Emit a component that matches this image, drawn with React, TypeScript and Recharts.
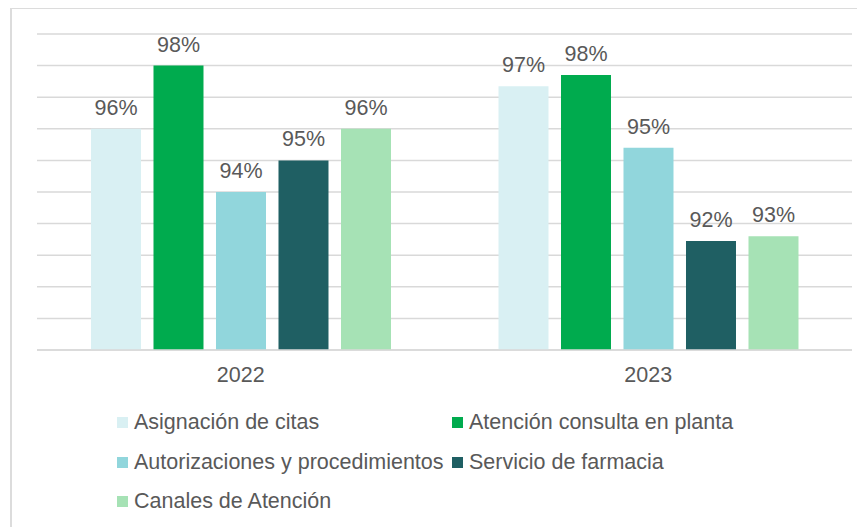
import { BarChart, Bar, XAxis, YAxis, CartesianGrid, LabelList } from "recharts";

const years = ["2022", "2023"];
const asignacion = [96.0, 97.35];
const atencion = [98.0, 97.7];
const autorizaciones = [94.0, 95.4];
const farmacia = [95.0, 92.45];
const canales = [96.0, 92.6];
const yTicks = [89, 90, 91, 92, 93, 94, 95, 96, 97, 98, 99];

const series = [
  { key: "asignacion", label: "Asignación de citas", values: asignacion, color: "#d9f0f3" },
  { key: "atencion", label: "Atención consulta en planta", values: atencion, color: "#00ab4e" },
  { key: "autorizaciones", label: "Autorizaciones y procedimientos", values: autorizaciones, color: "#91d6dc" },
  { key: "farmacia", label: "Servicio de farmacia", values: farmacia, color: "#1f5f63" },
  { key: "canales", label: "Canales de Atención", values: canales, color: "#a6e2b5" },
];

const data = years.map((year, i) => {
  const row: Record<string, string | number> = { year };
  series.forEach((s) => {
    row[s.key] = s.values[i];
  });
  return row;
});

const FONT = '"Liberation Sans", Arial, sans-serif';
const TEXT = "#595959";

export default function App() {
  return (
    <div
      style={{
        position: "relative",
        width: 865,
        height: 527,
        margin: "-8px 0 0 -8px",
        overflow: "hidden",
        background: "#fff",
        fontFamily: FONT,
      }}
    >
      <div
        style={{
          position: "absolute",
          left: 10,
          top: 7,
          width: 900,
          height: 600,
          border: "2px solid #dcdcdc",
          boxSizing: "border-box",
        }}
      />
      <div style={{ position: "absolute", left: 0, top: 0 }}>
        <BarChart
          width={865}
          height={400}
          data={data}
          margin={{ top: 34, right: 13, bottom: 20, left: 37 }}
          barCategoryGap="13.25%"
          barGap={12.5}
        >
          <CartesianGrid vertical={false} stroke="#d9d9d9" strokeWidth={1.5} />
          <XAxis
            dataKey="year"
            height={30}
            axisLine={{ stroke: "#d9d9d9", strokeWidth: 1.5 }}
            tickLine={false}
            tickSize={0}
            tickMargin={17}
            tick={{ fill: TEXT, fontSize: 21.5, fontFamily: FONT }}
          />
          <YAxis hide domain={[89, 99]} ticks={yTicks} allowDataOverflow />
          {series.map((s) => (
            <Bar key={s.key} dataKey={s.key} fill={s.color} isAnimationActive={false}>
              <LabelList
                dataKey={s.key}
                position="top"
                offset={14}
                formatter={(v: number) => `${Math.round(v)}%`}
                style={{ fill: TEXT, fontSize: 21.5, fontFamily: FONT }}
              />
            </Bar>
          ))}
        </BarChart>
      </div>
      <div
        style={{
          position: "absolute",
          left: 117,
          top: 403,
          display: "grid",
          gridTemplateColumns: "335px auto",
          gridAutoRows: "39.5px",
          color: TEXT,
          fontSize: 21.5,
        }}
      >
        {series.map((s) => (
          <div key={s.key} style={{ display: "flex", alignItems: "center", whiteSpace: "nowrap" }}>
            <span
              style={{
                display: "inline-block",
                width: 11,
                height: 11,
                background: s.color,
                marginRight: 6,
              }}
            />
            {s.label}
          </div>
        ))}
      </div>
    </div>
  );
}
